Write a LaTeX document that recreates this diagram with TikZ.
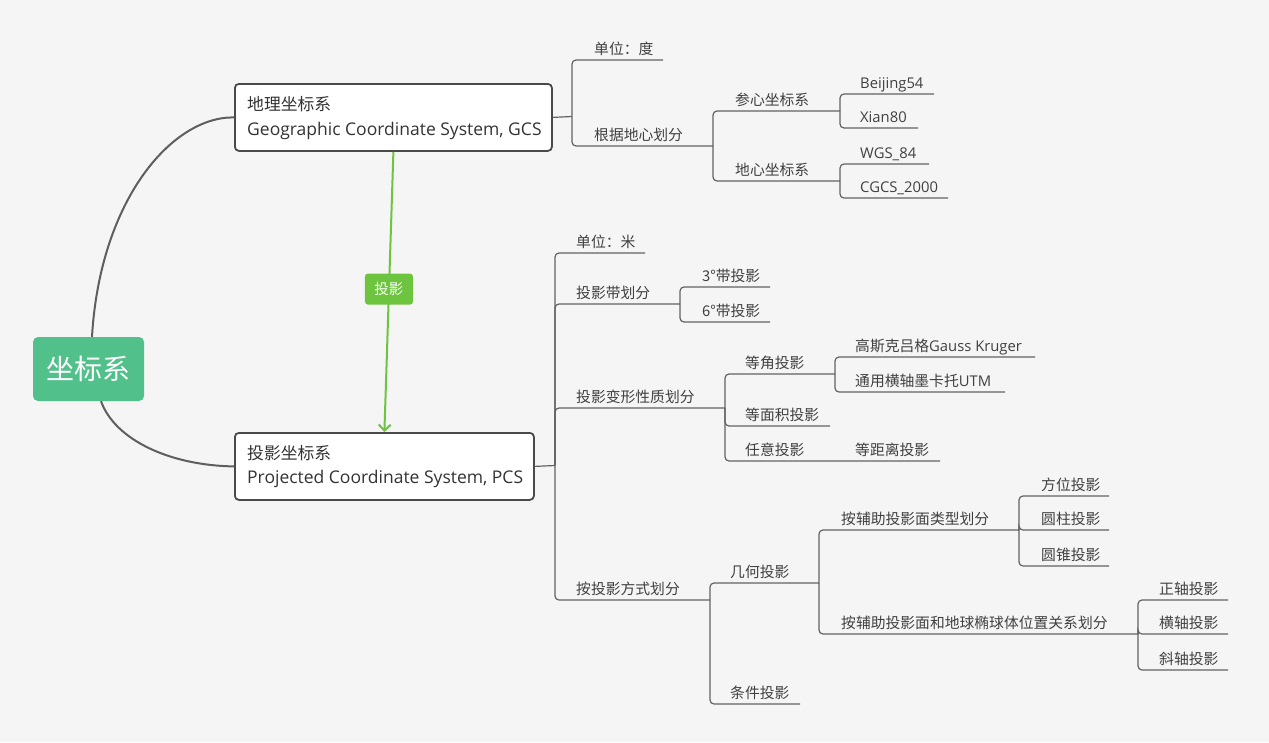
\documentclass[tikz,border=0pt]{standalone}
\usepackage{fontspec}
\setmainfont{Open Sans}
\newfontfamily\cjk{Noto Sans CJK SC}
\usetikzlibrary{arrows.meta}
\definecolor{bg}{HTML}{F5F5F5}
\definecolor{ln}{HTML}{626262}
\definecolor{mainln}{HTML}{5E5E5E}
\definecolor{tx}{HTML}{404040}
\definecolor{boxln}{HTML}{4A4A4A}
\definecolor{rootg}{HTML}{52C08B}
\definecolor{relg}{HTML}{6DC43F}
\begin{document}
\begin{tikzpicture}[x=1pt,y=-1pt,
  br/.style={draw=ln,line width=1.2pt,rounded corners=4pt},
  mainc/.style={draw=mainln,line width=2pt},
  lbl/.style={anchor=base west,inner sep=0pt,text=tx,font=\cjk\fontsize{14.8}{17}\selectfont},
  lbllat/.style={anchor=base west,inner sep=0pt,text=tx,font=\fontsize{14.8}{17}\selectfont},
  topicbox/.style={draw=boxln,line width=1.8pt,fill=white,rounded corners=4pt,anchor=north west,minimum height=67pt,inner sep=0pt},
  boxtxt/.style={anchor=base west,inner sep=0pt,text=black!80,font=\fontsize{17.5}{20}\selectfont},
  boxcjk/.style={anchor=base west,inner sep=0pt,text=black!80,font=\cjk\fontsize{16.8}{20}\selectfont},
  rootnode/.style={fill=rootg,rounded corners=5pt,text=white,minimum width=111pt,minimum height=64pt,inner sep=0pt,font=\cjk\fontsize{28}{32}\selectfont},
  rel/.style={draw=relg,line width=2pt,-{Straight Barb[length=6pt,width=12pt,line width=2pt]}},
  rellbl/.style={fill=relg,rounded corners=3pt,text=white,minimum width=48pt,minimum height=31pt,inner sep=0pt,font=\cjk\fontsize{14.5}{17}\selectfont}
]
\fill[bg] (0,0) rectangle (1269,742);
\useasboundingbox (0,0) rectangle (1269,742);

% root and main topics
\node[rootnode] (root) at (88.5,369) {坐标系};
\node[topicbox,minimum width=317pt] (gcs) at (234,83) {};
\node[boxcjk] (gcst1) at (247,110) {地理坐标系};
\node[boxtxt] (gcst2) at (247,135) {Geographic Coordinate System, GCS};
\node[topicbox,minimum width=299pt] (pcs) at (234,432) {};
\node[boxcjk] (pcst1) at (247,459) {投影坐标系};
\node[boxtxt] (pcst2) at (247,483) {Projected Coordinate System, PCS};

\draw[mainc] ([xshift=3.5pt]root.north) .. controls (100,200) and (172,116.5) .. (gcs.west);
\draw[mainc] ([xshift=12.5pt]root.south) .. controls (115,440) and (170,465.5) .. (pcs.west);

\draw[rel] (gcs.south) -- node[rellbl,pos=0.49] (proj) {投影} (pcs.north);

% ---------- GCS branch ----------
\coordinate (g0) at (572,116.5);
\draw[br] (gcs.east) -- (g0);
\node[lbl] (a1) at (594,54) {单位：度};        \coordinate (a1e) at (663,60);
\node[lbl] (a2) at (594,140) {根据地心划分};    \coordinate (a2e) at (713,146);
\node[lbl] (a21) at (735,105) {参心坐标系};     \coordinate (a21e) at (840,111);
\node[lbl] (a22) at (735,175) {地心坐标系};     \coordinate (a22e) at (840,181);
\node[lbllat] (a211) at (860,88.5) {Beijing54}; \coordinate (a211e) at (934,94);
\node[lbllat] (a212) at (860,122.5) {Xian80};   \coordinate (a212e) at (918,128);
\node[lbllat] (a221) at (860,158.5) {WGS\_84};  \coordinate (a221e) at (929,164);
\node[lbllat] (a222) at (860,192.5) {CGCS\_2000}; \coordinate (a222e) at (948,198);
\draw[br] (g0) |- (a1e);
\draw[br] (g0) |- (a2e);
\draw[br] (a2e) |- (a21e);
\draw[br] (a2e) |- (a22e);
\draw[br] (a21e) |- (a211e);
\draw[br] (a21e) |- (a212e);
\draw[br] (a22e) |- (a221e);
\draw[br] (a22e) |- (a222e);

% ---------- PCS branch ----------
\coordinate (p0) at (555,465.5);
\draw[br] (pcs.east) -- (p0);
\node[lbl] (b1) at (576,247) {单位：米};           \coordinate (b1e) at (645,253);
\node[lbl] (b2) at (576,298) {投影带划分};         \coordinate (b2e) at (680,304);
\node[lbl] (b21) at (702,281) {3°带投影};          \coordinate (b21e) at (770,287);
\node[lbl] (b22) at (702,316) {6°带投影};          \coordinate (b22e) at (770,322);
\node[lbl] (b3) at (576,402) {投影变形性质划分};   \coordinate (b3e) at (725,408);
\node[lbl] (b31) at (745,368) {等角投影};          \coordinate (b31e) at (835,374);
\node[lbl] (b311) at (855,351) {高斯克吕格{\fontspec{Open Sans}Gauss Kruger}}; \coordinate (b311e) at (1035,357);
\node[lbl] (b312) at (855,386) {通用横轴墨卡托{\fontspec{Open Sans}UTM}};      \coordinate (b312e) at (1005,392);
\node[lbl] (b32) at (745,420) {等面积投影};        \coordinate (b32e) at (830,426);
\node[lbl] (b33) at (745,455) {任意投影};          \coordinate (b33e) at (835,461);
\node[lbl] (b331) at (855,455) {等距离投影};       \coordinate (b331e) at (940,461);
\node[lbl] (b4) at (576,594) {按投影方式划分};     \coordinate (b4e) at (710,600);
\node[lbl] (b41) at (730,577) {几何投影};          \coordinate (b41e) at (819,583);
\node[lbl] (b411) at (841,524) {按辅助投影面类型划分}; \coordinate (b411e) at (1019,530);
\node[lbl] (b4111) at (1041,490) {方位投影};       \coordinate (b4111e) at (1109,496);
\node[lbl] (b4112) at (1041,524) {圆柱投影};       \coordinate (b4112e) at (1109,530);
\node[lbl] (b4113) at (1041,560) {圆锥投影};       \coordinate (b4113e) at (1109,566);
\node[lbl] (b412) at (841,628) {按辅助投影面和地球椭球体位置关系划分}; \coordinate (b412e) at (1138,634);
\node[lbl] (b4121) at (1159,594) {正轴投影};       \coordinate (b4121e) at (1228,600);
\node[lbl] (b4122) at (1159,628) {横轴投影};       \coordinate (b4122e) at (1228,634);
\node[lbl] (b4123) at (1159,664) {斜轴投影};       \coordinate (b4123e) at (1228,670);
\node[lbl] (b42) at (730,698) {条件投影};          \coordinate (b42e) at (800,704);

\draw[br] (p0) |- (b1e);
\draw[br] (p0) |- (b2e);
\draw[br] (p0) |- (b3e);
\draw[br] (p0) |- (b4e);
\draw[br] (b2e) |- (b21e);
\draw[br] (b2e) |- (b22e);
\draw[br] (b3e) |- (b31e);
\draw[br] (b3e) |- (b32e);
\draw[br] (b3e) |- (b33e) -- (b331e);
\draw[br] (b31e) |- (b311e);
\draw[br] (b31e) |- (b312e);
\draw[br] (b4e) |- (b41e);
\draw[br] (b4e) |- (b42e);
\draw[br] (b41e) |- (b411e);
\draw[br] (b41e) |- (b412e);
\draw[br] (b411e) |- (b4111e);
\draw[br] (b411e) |- (b4112e);
\draw[br] (b411e) |- (b4113e);
\draw[br] (b412e) |- (b4121e);
\draw[br] (b412e) |- (b4122e);
\draw[br] (b412e) |- (b4123e);
\end{tikzpicture}
\end{document}
